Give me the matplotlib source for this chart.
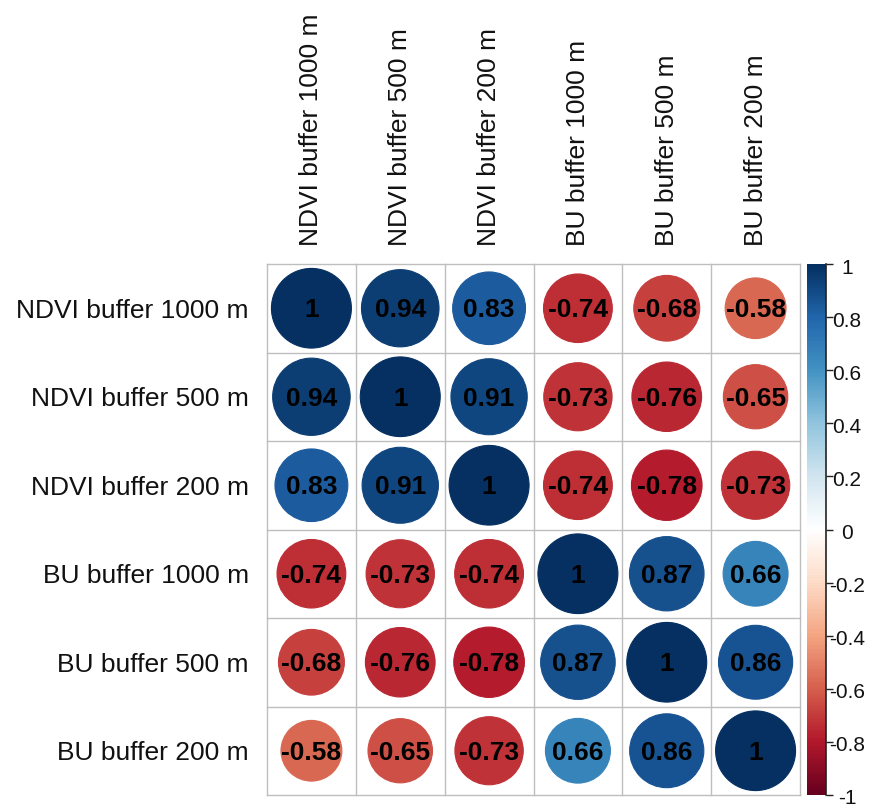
import numpy as np
import matplotlib
matplotlib.use("Agg")
import matplotlib.pyplot as plt
from matplotlib.colors import LinearSegmentedColormap, Normalize
from matplotlib.patches import Circle
import matplotlib.cm as cm
import matplotlib.transforms as mtransforms

labels = ["NDVI buffer 1000 m", "NDVI buffer 500 m", "NDVI buffer 200 m",
          "BU buffer 1000 m", "BU buffer 500 m", "BU buffer 200 m"]

corr = np.array([
    [1.00, 0.94, 0.83, -0.74, -0.68, -0.58],
    [0.94, 1.00, 0.91, -0.73, -0.76, -0.65],
    [0.83, 0.91, 1.00, -0.74, -0.78, -0.73],
    [-0.74, -0.73, -0.74, 1.00, 0.87, 0.66],
    [-0.68, -0.76, -0.78, 0.87, 1.00, 0.86],
    [-0.58, -0.65, -0.73, 0.66, 0.86, 1.00],
])

cbar_ticks = [-1, -0.8, -0.6, -0.4, -0.2, 0, 0.2, 0.4, 0.6, 0.8, 1]
cbar_ticklabels = ["-1", "-0.8", "-0.6", "-0.4", "-0.2", "0", "0.2", "0.4", "0.6", "0.8", "1"]

rdbu_colors = ["#67001F", "#B2182B", "#D6604D", "#F4A582", "#FDDBC7", "#FFFFFF",
               "#D1E5F0", "#92C5DE", "#4393C3", "#2166AC", "#053061"]
cmap = LinearSegmentedColormap.from_list("corrRdBu", rdbu_colors, N=200)
norm = Normalize(-1, 1)

plt.rcParams['font.family'] = ['Liberation Sans', 'DejaVu Sans']

W, H = 869, 810
fig = plt.figure(figsize=(W / 100, H / 100), dpi=100)

gx0, gx1, gy0, gy1 = 267, 800, 264, 795
ax = fig.add_axes([gx0 / W, (H - gy1) / H, (gx1 - gx0) / W, (gy1 - gy0) / H])
n = len(labels)
ax.set_xlim(0, n)
ax.set_ylim(n, 0)
for s in ax.spines.values():
    s.set_visible(False)

grid_col = "#BEBEBE"
for k in range(n + 1):
    ax.plot([k, k], [0, n], color=grid_col, lw=1, zorder=1, clip_on=False)
    ax.plot([0, n], [k, k], color=grid_col, lw=1, zorder=1, clip_on=False)

for i in range(n):
    for j in range(n):
        v = corr[i, j]
        col = cmap(norm(v))
        r = 0.9 * np.sqrt(abs(v)) / 2
        ax.add_patch(Circle((j + 0.5, i + 0.5), r, facecolor=col, edgecolor=col,
                            lw=0.8, zorder=2))
        txt = "1" if v == 1 else f"{v:.2f}"
        ax.text(j + 0.5, i + 0.52, txt, ha="center", va="center", fontsize=19,
                fontweight="bold", color="black", zorder=3)

ax.set_xticks(np.arange(n) + 0.5)
ax.set_xticklabels(labels, rotation=90, fontsize=19, color="#111111")
ax.xaxis.tick_top()
ax.set_yticks(np.arange(n) + 0.5)
ax.set_yticklabels(labels, fontsize=19, color="#111111")
ax.tick_params(axis="both", length=0)
ax.tick_params(axis="x", pad=13)
ax.tick_params(axis="y", pad=13)

cx0, cx1 = 807, 826
cax = fig.add_axes([cx0 / W, (H - gy1) / H, (cx1 - cx0) / W, (gy1 - gy0) / H])
sm = cm.ScalarMappable(norm=norm, cmap=cmap)
cb = fig.colorbar(sm, cax=cax, ticks=cbar_ticks)
cb.set_ticklabels([""] * len(cbar_ticks))
cb.outline.set_visible(False)
cax.plot([1, 1], [-1, 1], color="#222222", lw=1.2, transform=cax.get_yaxis_transform(),
         clip_on=False)
cax.tick_params(axis="y", length=5, width=1, pad=0, color="#222222")

lab_x = (847 - cx0) / (cx1 - cx0)
offset = mtransforms.ScaledTranslation(0, -4 / 100, fig.dpi_scale_trans)
trans = cax.get_yaxis_transform() + offset
for t, lab in zip(cbar_ticks, cbar_ticklabels):
    cax.text(lab_x, t, lab, ha="center", va="center", fontsize=15, color="#111111",
             transform=trans, clip_on=False)

fig.savefig("out.png", dpi=100, facecolor="white")
